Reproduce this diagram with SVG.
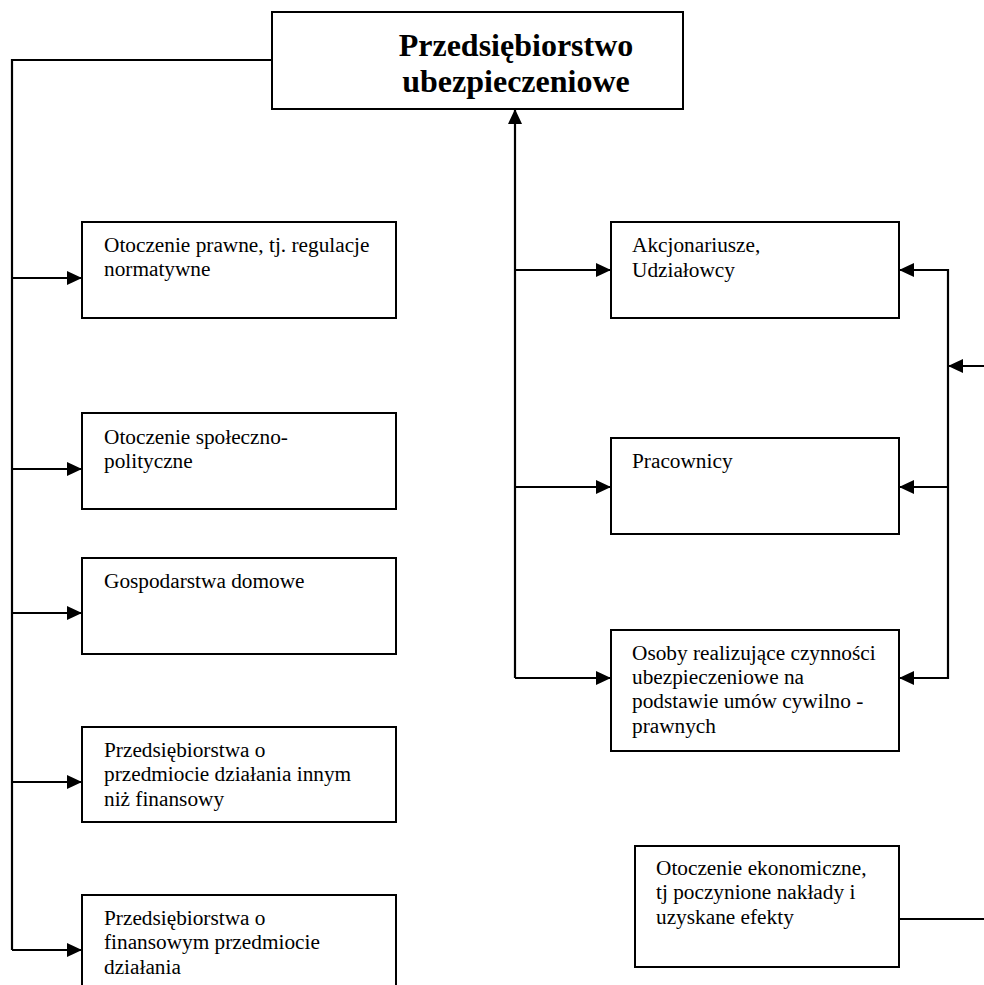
<svg xmlns="http://www.w3.org/2000/svg" width="984" height="985" viewBox="0 0 984 985">
  <style>
    .box { fill: #fff; stroke: #000; stroke-width: 2; }
    .t { font-family: "Liberation Serif", "Times New Roman", serif; font-size: 21.3px; fill: #000; }
    .title { font-family: "Liberation Serif", "Times New Roman", serif; font-size: 32px; font-weight: bold; fill: #000; text-anchor: middle; }
    .c { fill: none; stroke: #000; stroke-width: 2.2; }
  </style>
  <defs>
    <marker id="ah" markerUnits="userSpaceOnUse" markerWidth="16" markerHeight="15" refX="15" refY="7" orient="auto">
      <path d="M0,0 L15,7 L0,14 z" fill="#000"/>
    </marker>
  </defs>
  <rect width="984" height="985" fill="#fff"/>

  <g id="connectors">
    <path class="c" d="M272,60 H12 V950"/>
    <line class="c" x1="12" y1="278" x2="82" y2="278" marker-end="url(#ah)"/>
    <line class="c" x1="12" y1="469" x2="82" y2="469" marker-end="url(#ah)"/>
    <line class="c" x1="12" y1="613" x2="82" y2="613" marker-end="url(#ah)"/>
    <line class="c" x1="12" y1="782" x2="82" y2="782" marker-end="url(#ah)"/>
    <line class="c" x1="12" y1="950" x2="82" y2="950" marker-end="url(#ah)"/>
    <path class="c" d="M515,678 V109" marker-end="url(#ah)"/>
    <line class="c" x1="515" y1="270" x2="611" y2="270" marker-end="url(#ah)"/>
    <line class="c" x1="515" y1="487" x2="611" y2="487" marker-end="url(#ah)"/>
    <line class="c" x1="515" y1="678" x2="611" y2="678" marker-end="url(#ah)"/>
    <line class="c" x1="948" y1="269" x2="948" y2="679"/>
    <line class="c" x1="948" y1="270" x2="899" y2="270" marker-end="url(#ah)"/>
    <line class="c" x1="948" y1="487" x2="899" y2="487" marker-end="url(#ah)"/>
    <line class="c" x1="948" y1="678" x2="899" y2="678" marker-end="url(#ah)"/>
    <line class="c" x1="984" y1="366" x2="948" y2="366" marker-end="url(#ah)"/>
    <line class="c" x1="899" y1="919" x2="984" y2="919"/>
  </g>

  <g id="n-main">
    <rect class="box" x="272" y="12" width="411" height="97"/>
    <text class="title" x="516" y="56">Przedsiębiorstwo</text>
    <text class="title" x="516" y="92">ubezpieczeniowe</text>
  </g>

  <g id="n-prawne">
    <rect class="box" x="82" y="222" width="314" height="96"/>
    <text class="t" x="104" y="252">Otoczenie prawne, tj. regulacje</text>
    <text class="t" x="104" y="276">normatywne</text>
  </g>
  <g id="n-spoleczne">
    <rect class="box" x="82" y="413" width="314" height="96"/>
    <text class="t" x="104" y="444">Otoczenie społeczno-</text>
    <text class="t" x="104" y="468">polityczne</text>
  </g>
  <g id="n-gospodarstwa">
    <rect class="box" x="82" y="558" width="314" height="96"/>
    <text class="t" x="104" y="588">Gospodarstwa domowe</text>
  </g>
  <g id="n-niefinansowe">
    <rect class="box" x="82" y="727" width="314" height="95"/>
    <text class="t" x="104" y="757">Przedsiębiorstwa o</text>
    <text class="t" x="104" y="781">przedmiocie działania innym</text>
    <text class="t" x="104" y="806">niż finansowy</text>
  </g>
  <g id="n-finansowe">
    <rect class="box" x="82" y="895" width="314" height="100"/>
    <text class="t" x="104" y="925">Przedsiębiorstwa o</text>
    <text class="t" x="104" y="949">finansowym przedmiocie</text>
    <text class="t" x="104" y="974">działania</text>
  </g>

  <g id="n-akcjonariusze">
    <rect class="box" x="611" y="222" width="288" height="96"/>
    <text class="t" x="632" y="252">Akcjonariusze,</text>
    <text class="t" x="632" y="277">Udziałowcy</text>
  </g>
  <g id="n-pracownicy">
    <rect class="box" x="611" y="438" width="288" height="96"/>
    <text class="t" x="632" y="468">Pracownicy</text>
  </g>
  <g id="n-osoby">
    <rect class="box" x="611" y="630" width="288" height="121"/>
    <text class="t" x="632" y="660">Osoby realizujące czynności</text>
    <text class="t" x="632" y="684">ubezpieczeniowe na</text>
    <text class="t" x="632" y="708">podstawie umów cywilno -</text>
    <text class="t" x="632" y="733">prawnych</text>
  </g>
  <g id="n-ekonomiczne">
    <rect class="box" x="635" y="846" width="264" height="121"/>
    <text class="t" x="656" y="875">Otoczenie ekonomiczne,</text>
    <text class="t" x="656" y="899">tj poczynione nakłady i</text>
    <text class="t" x="656" y="924">uzyskane efekty</text>
  </g>
</svg>
